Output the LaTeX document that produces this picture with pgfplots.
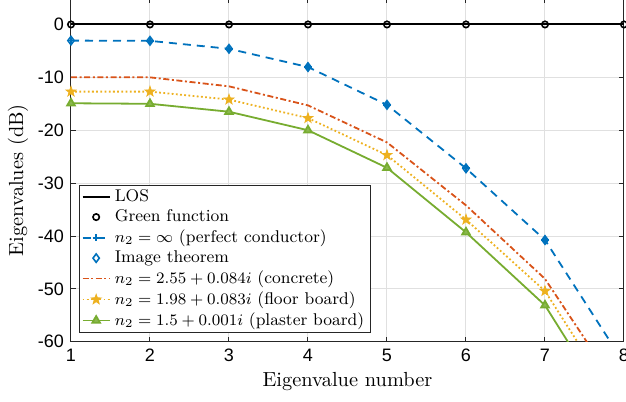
\documentclass[border=0pt]{standalone}
\usepackage{fontspec}
\newfontfamily\ticksans{Liberation Sans}
\usepackage{pgfplots}
\pgfplotsset{compat=1.18}
\definecolor{mblue}{rgb}{0,0.447,0.741}
\definecolor{morange}{rgb}{0.85,0.325,0.098}
\definecolor{myellow}{rgb}{0.929,0.694,0.125}
\definecolor{mgreen}{rgb}{0.466,0.674,0.188}
\pgfdeclareplotmark{pstar}{%
  \pgfpathmoveto{\pgfpointpolar{90}{\pgfplotmarksize}}%
  \pgfpathlineto{\pgfpointpolar{126}{0.4\pgfplotmarksize}}%
  \pgfpathlineto{\pgfpointpolar{162}{\pgfplotmarksize}}%
  \pgfpathlineto{\pgfpointpolar{198}{0.4\pgfplotmarksize}}%
  \pgfpathlineto{\pgfpointpolar{234}{\pgfplotmarksize}}%
  \pgfpathlineto{\pgfpointpolar{270}{0.4\pgfplotmarksize}}%
  \pgfpathlineto{\pgfpointpolar{306}{\pgfplotmarksize}}%
  \pgfpathlineto{\pgfpointpolar{342}{0.4\pgfplotmarksize}}%
  \pgfpathlineto{\pgfpointpolar{18}{\pgfplotmarksize}}%
  \pgfpathlineto{\pgfpointpolar{54}{0.4\pgfplotmarksize}}%
  \pgfpathclose
  \pgfusepathqfillstroke}
\begin{document}
\begin{tikzpicture}
\begin{axis}[
  scale only axis,
  width=276.5pt, height=171.9pt,
  xmin=1, xmax=8, ymin=-60, ymax=5,
  xtick={1,2,3,4,5,6,7,8},
  xticklabels={1,2,3,4,5,6,7,8},
  ytick={-60,-50,-40,-30,-20,-10,0},
  yticklabels={-60,-50,-40,-30,-20,-10,0},
  ticklabel style={font=\ticksans\fontsize{9}{10}\selectfont},
  tick align=inside,
  major tick length=2.5pt,
  tick style={black!85, line width=0.5pt},
  axis line style={black!85, line width=0.5pt},
  grid=major,
  major grid style={black!12, line width=0.5pt},
  xlabel={Eigenvalue number},
  ylabel={Eigenvalues (dB)},
  label style={font=\fontsize{10.2}{12}\selectfont},
  xlabel style={at={(axis description cs:0.5,0)}, anchor=center, yshift=-20pt},
  ylabel style={at={(axis description cs:-0.096,0.47)}, anchor=center},
  legend cell align=left,
  legend image code/.code={\draw[mark repeat=2,mark phase=2,#1] plot coordinates {(0cm,0cm) (0.24cm,0cm) (0.48cm,0cm)};},
  legend style={font=\fontsize{8.5}{10}\selectfont, draw=black!85, line width=0.5pt,
    at={(axis description cs:0.0145,0.026)}, anchor=south west,
    inner xsep=1pt, inner ysep=0pt, row sep=-1.4pt, fill=white},
]
\addplot[black, line width=1pt] coordinates {(1,0) (2,0) (3,0) (4,0) (5,0) (6,0) (7,0) (8,0)};
\addlegendentry{LOS}
\addplot[black, only marks, mark=o, mark size=1.6pt, line width=0.8pt] coordinates {(1,0) (2,0) (3,0) (4,0) (5,0) (6,0) (7,0) (8,0)};
\addlegendentry{Green function}
\addplot[mblue, line width=0.9pt, dash pattern=on 4pt off 3pt, mark=+, mark size=1.8pt, mark options={solid}] coordinates {(1,-3.05) (2,-3.1) (3,-4.6) (4,-8.05) (5,-15.2) (6,-27.2) (7,-40.75) (8,-64)};
\addlegendentry{$n_2=\infty$ (perfect conductor)}
\addplot[mblue, only marks, mark=diamond, mark size=2.1pt, line width=0.8pt] coordinates {(1,-3.05) (2,-3.1) (3,-4.6) (4,-8.05) (5,-15.2) (6,-27.2) (7,-40.75)};
\addlegendentry{Image theorem}
\addplot[morange, line width=0.9pt, dash pattern=on 3pt off 1.3pt on 1pt off 1.3pt] coordinates {(1,-10.0) (2,-10.0) (3,-11.7) (4,-15.3) (5,-22.3) (6,-34.2) (7,-48.1) (8,-70.6)};
\addlegendentry{$n_2=2.55+0.084i$ (concrete)}
\addplot[myellow, line width=0.9pt, dash pattern=on 0.9pt off 1.2pt, mark=pstar, mark size=2.6pt, mark options={solid, line width=0.4pt}] coordinates {(1,-12.7) (2,-12.7) (3,-14.2) (4,-17.7) (5,-24.7) (6,-36.9) (7,-50.4) (8,-73.8)};
\addlegendentry{$n_2=1.98+0.083i$ (floor board)}
\addplot[mgreen, line width=0.9pt, mark=triangle*, mark size=2.2pt, mark options={solid, fill=mgreen!85}] coordinates {(1,-14.9) (2,-15.0) (3,-16.5) (4,-20.0) (5,-27.1) (6,-39.3) (7,-53.1) (8,-76.9)};
\addlegendentry{$n_2=1.5+0.001i$ (plaster board)}
\end{axis}
\pgfresetboundingbox
\path[use as bounding box] (-35.5pt,-30pt) rectangle (277.5pt,170.9pt);
\end{tikzpicture}
\end{document}
